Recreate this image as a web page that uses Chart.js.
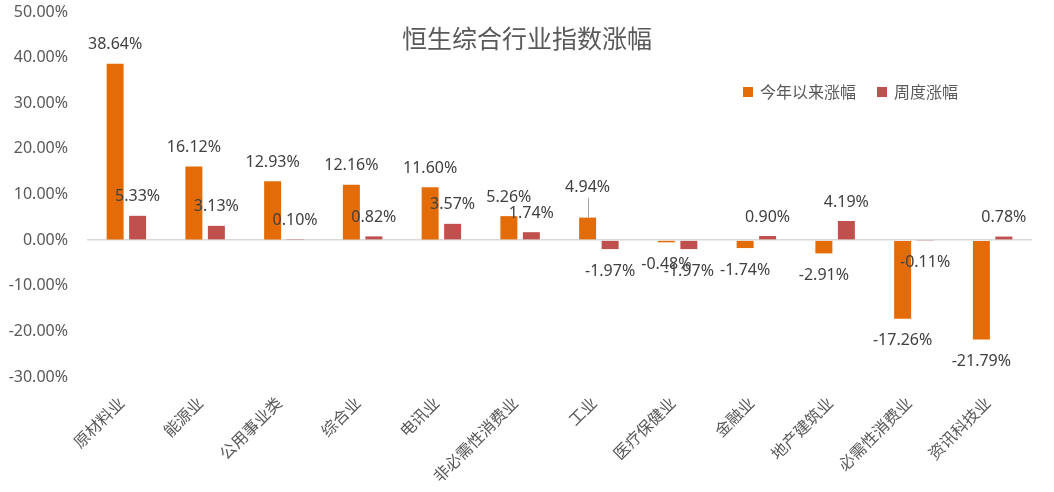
<!DOCTYPE html>
<html><head><meta charset="utf-8">
<script src="https://cdn.jsdelivr.net/npm/chart.js@4.4.1/dist/chart.umd.min.js"></script>
<style>html,body{margin:0;padding:0;background:#fff;}#wrap{width:1054px;height:492px;position:relative;}</style>
</head><body><div id="wrap"><canvas id="c"></canvas></div>
<script>
const titleText = '恒生综合行业指数涨幅';
const categories = ['原材料业','能源业','公用事业类','综合业','电讯业','非必需性消费业','工业','医疗保健业','金融业','地产建筑业','必需性消费业','资讯科技业'];
const seriesNames = ['今年以来涨幅','周度涨幅'];
const ytdValues = [38.64, 16.12, 12.93, 12.16, 11.60, 5.26, 4.94, -0.48, -1.74, -2.91, -17.26, -21.79];
const weeklyValues = [5.33, 3.13, 0.10, 0.82, 3.57, 1.74, -1.97, -1.97, 0.90, 4.19, -0.11, 0.78];
const yMin = -30, yMax = 50, yStep = 10;
const colors = ['#E36C09', '#C0504D'];

const FONT_LATIN = '"Noto Sans", "Noto Sans CJK SC", sans-serif';
const FONT_CJK = '"Noto Sans CJK SC", "Noto Sans", sans-serif';

const overlayPlugin = {
  id: 'overlay',
  afterDatasetsDraw(chart, args, opts) {
    const ctx = chart.ctx;
    ctx.save();
    // title
    ctx.fillStyle = '#595959';
    ctx.font = '25px ' + FONT_CJK;
    ctx.textAlign = 'center';
    ctx.textBaseline = 'middle';
    ctx.fillText(titleText, 527, 38);
    // legend
    ctx.font = '16px ' + FONT_CJK;
    ctx.textAlign = 'left';
    const legendX = [743, 877];
    seriesNames.forEach((n, i) => {
      ctx.fillStyle = colors[i];
      ctx.fillRect(legendX[i], 87, 10, 10);
      ctx.fillStyle = '#595959';
      ctx.fillText(n, legendX[i] + 17, 92);
    });
    // data labels
    ctx.font = '16px ' + FONT_LATIN;
    ctx.textAlign = 'center';
    ctx.textBaseline = 'middle';
    chart.data.datasets.forEach((ds, di) => {
      const meta = chart.getDatasetMeta(di);
      meta.data.forEach((bar, i) => {
        const v = ds.data[i];
        let y = v >= 0 ? bar.y - 19 : bar.y + 22;
        const adj = (opts.adjust || []).find(a => a.ds === di && a.i === i);
        if (adj) {
          y += adj.dy;
          if (adj.leader) {
            ctx.strokeStyle = '#A6A6A6';
            ctx.lineWidth = 1;
            ctx.beginPath();
            ctx.moveTo(Math.round(bar.x) + 0.5, bar.y);
            ctx.lineTo(Math.round(bar.x) + 0.5, y + 10);
            ctx.stroke();
          }
        }
        ctx.fillStyle = '#404040';
        ctx.fillText(v.toFixed(2) + '%', bar.x, y);
      });
    });
    ctx.restore();
  }
};

new Chart(document.getElementById('c'), {
  type: 'bar',
  data: {
    labels: categories,
    datasets: [
      { label: seriesNames[0], data: ytdValues, backgroundColor: colors[0], categoryPercentage: 0.571, barPercentage: 0.756 },
      { label: seriesNames[1], data: weeklyValues, backgroundColor: colors[1], categoryPercentage: 0.571, barPercentage: 0.756 }
    ]
  },
  options: {
    responsive: true,
    maintainAspectRatio: false,
    animation: false,
    devicePixelRatio: 1,
    layout: { autoPadding: false, padding: { top: 12, right: 22, bottom: 0, left: 0 } },
    scales: {
      x: {
        grid: { display: false },
        border: { display: false },
        ticks: { color: '#595959', font: { size: 16, family: FONT_CJK }, maxRotation: 45, minRotation: 45, autoSkip: false, padding: 8, labelOffset: -5 },
        afterFit: s => { s.height = 115; s.paddingTop = 0; s.paddingBottom = 0; }
      },
      y: {
        min: yMin, max: yMax,
        border: { display: false },
        grid: { drawTicks: false, color: c => c.tick && c.tick.value === 0 ? '#D9D9D9' : 'rgba(0,0,0,0)', lineWidth: 1.5 },
        ticks: { stepSize: yStep, color: '#595959', font: { size: 16, family: FONT_LATIN }, padding: 19, callback: v => Number(v).toFixed(2) + '%' },
        afterFit: s => { s.width = 87; s.paddingTop = 0; s.paddingBottom = 0; }
      }
    },
    plugins: {
      legend: { display: false },
      title: { display: false },
      tooltip: { enabled: false },
      overlay: { adjust: [{ ds: 0, i: 6, dy: -11, leader: true }] }
    }
  },
  plugins: [overlayPlugin]
});
</script>
</body></html>
